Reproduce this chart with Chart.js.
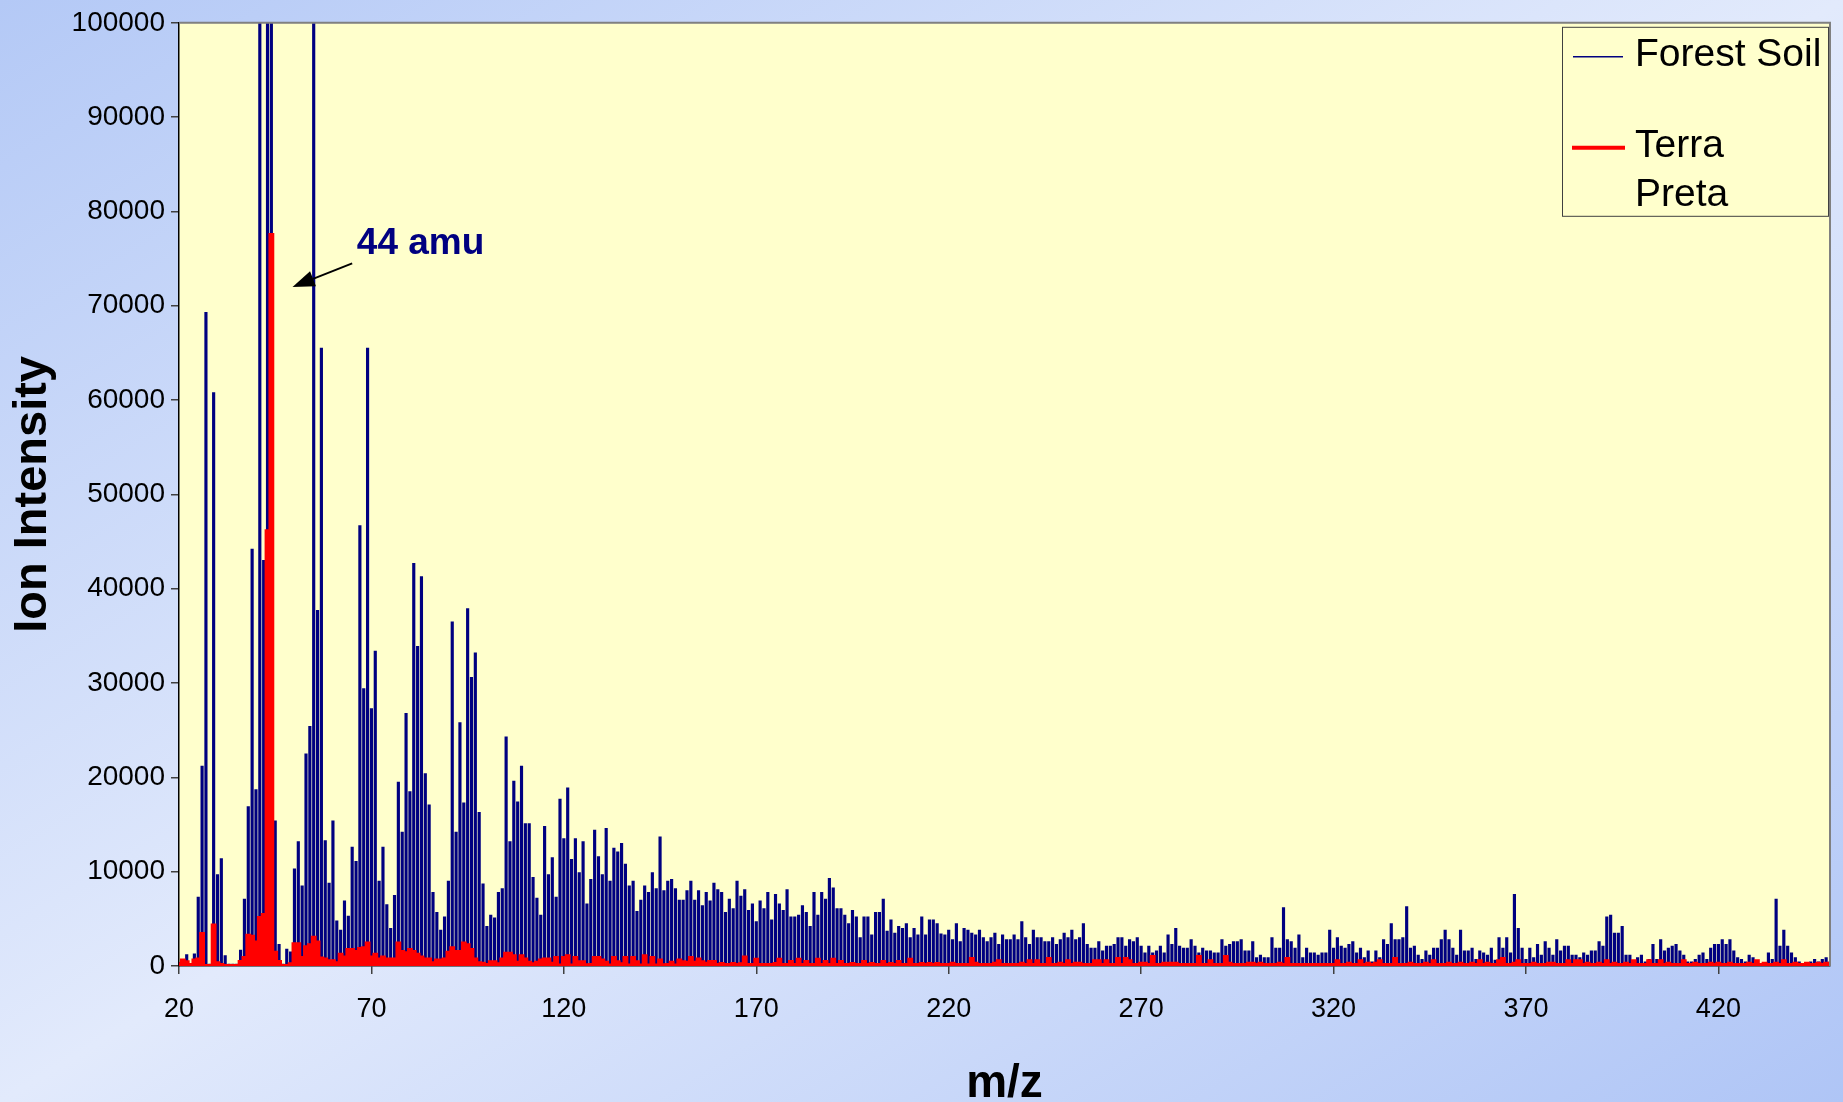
<!DOCTYPE html>
<html>
<head>
<meta charset="utf-8">
<title>Ion Intensity vs m/z</title>
<script src="https://cdn.jsdelivr.net/npm/chart.js@4.4.1/dist/chart.umd.min.js"></script>
<style>
  html, body { margin: 0; padding: 0; }
  body {
    width: 1843px; height: 1102px; overflow: hidden;
    background: linear-gradient(to bottom right, #b4c9f6 0%, #e2eafc 50%, #afc5f6 100%);
  }
  canvas { display: block; }
</style>
</head>
<body>
<canvas id="spectrum" width="1843" height="1102"></canvas>
<script>
// m/z runs from MZ_FIRST, one value per unit
const MZ_FIRST = 20;
const X_TICKS = [20, 70, 120, 170, 220, 270, 320, 370, 420];
const Y_TICKS = [0, 10000, 20000, 30000, 40000, 50000, 60000, 70000, 80000, 90000, 100000];

const FOREST_SOIL = [
  400, 300, 1200, 200, 1300, 7300, 21200, 69300, 200, 60800,          // 20
  9700, 11400, 1100, 200, 200, 200, 1700, 7100, 16900, 44200,         // 30
  18700, 100000, 43000, 100000, 100000, 15400, 2300, 200, 1800, 1500, // 40
  10300, 13200, 8500, 22500, 25400, 100000, 37700, 65500, 13300, 8800, // 50
  15400, 4800, 3800, 6900, 5300, 12600, 11100, 46700, 29400, 65500,   // 60
  27300, 33400, 9000, 12600, 6500, 4000, 7500, 19500, 14200, 26800,   // 70
  18500, 42700, 33900, 41300, 20400, 17100, 7800, 5700, 3800, 5200,   // 80
  9000, 36500, 14200, 25800, 17300, 37900, 30600, 33200, 16300, 8700, // 90
  4200, 5400, 5100, 7800, 8200, 24300, 13200, 19600, 17400, 21200,    // 100
  15100, 15100, 9400, 7200, 5400, 14800, 9700, 11500, 7300, 17700,    // 110
  13500, 18900, 11300, 13500, 9900, 13200, 6600, 9200, 14400, 11600,  // 120
  9700, 14600, 9000, 12500, 12100, 13000, 10800, 8500, 9000, 5800,    // 130
  7000, 8500, 7800, 9900, 8200, 13700, 8000, 9000, 9200, 8200,        // 140
  7000, 7000, 8000, 9000, 7000, 8000, 6400, 7800, 6900, 8800,         // 150
  8100, 7800, 5700, 7100, 6100, 9000, 7400, 8100, 5900, 6600,         // 160
  4700, 6900, 6100, 7800, 4900, 7600, 6600, 5900, 8100, 5200,         // 170
  5200, 5400, 6400, 5700, 4200, 7800, 5400, 7800, 7100, 9300,         // 180
  8300, 6100, 6100, 5400, 4500, 5900, 5200, 3000, 5200, 5200,         // 190
  3300, 5700, 5700, 7100, 3700, 4900, 3500, 4200, 4000, 4500,         // 200
  3000, 4000, 3300, 5200, 3300, 4900, 4900, 4500, 3400, 3300,         // 210
  3800, 2800, 4500, 2600, 4000, 3800, 3500, 3300, 3800, 3000,         // 220
  2600, 3000, 3500, 2300, 3300, 2800, 2800, 3300, 2800, 4700,         // 230
  3000, 2300, 3800, 3000, 3000, 2600, 2600, 3000, 2300, 2800,         // 240
  3500, 3000, 3800, 2800, 3000, 4500, 2300, 1900, 1900, 2600,         // 250
  1600, 2100, 2100, 2300, 3000, 3000, 2100, 2800, 2600, 3000,         // 260
  2100, 1400, 2100, 1400, 1600, 2100, 1400, 3300, 2300, 4000,         // 270
  2100, 1900, 1900, 2800, 2100, 1400, 1900, 1600, 1600, 1400,         // 280
  1400, 2800, 2100, 2300, 2600, 2600, 2800, 1600, 1600, 2600,         // 290
  900, 1150, 900, 900, 3000, 1900, 1900, 6200, 2800, 2600,            // 300
  1900, 3300, 900, 1900, 1400, 1400, 1150, 1400, 1400, 3800,          // 310
  1900, 3000, 2100, 1900, 2300, 2600, 1400, 1900, 900, 1600,          // 320
  450, 1600, 900, 2800, 2300, 4500, 2800, 2800, 3000, 6300,           // 330
  1900, 2100, 1150, 700, 1600, 1150, 1900, 1900, 2800, 3800,          // 340
  2800, 1900, 1150, 3800, 1600, 1600, 1900, 700, 1600, 1400,          // 350
  1150, 1900, 630, 3000, 1900, 3000, 1400, 7600, 4000, 1900,          // 360
  700, 1900, 900, 2300, 1150, 2600, 1900, 1150, 2800, 1600,           // 370
  2100, 2100, 1150, 1150, 900, 1400, 1150, 1600, 1600, 2600,          // 380
  2100, 5200, 5400, 3500, 3500, 4200, 1150, 1150, 450, 900,           // 390
  1150, 450, 700, 2300, 700, 2800, 1600, 1900, 2100, 2300,            // 400
  1600, 1150, 450, 450, 700, 1150, 1400, 700, 1900, 2300,             // 410
  2300, 2800, 2300, 2800, 1600, 900, 700, 450, 1150, 900,             // 420
  250, 100, 250, 1400, 700, 7100, 2100, 3800, 2100, 1400,             // 430
  900, 450, 250, 300, 450, 700, 450, 700, 900, 450                    // 440
];

const TERRA_PRETA = [
  300, 700, 500, 200, 700, 800, 3500, 100, 100, 4400,                 // 20
  400, 200, 100, 100, 100, 100, 530, 950, 3300, 3200,                 // 30
  2600, 5200, 5500, 46200, 77600, 1500, 530, 100, 100, 300,           // 40
  2400, 2400, 950, 2100, 2300, 3100, 2600, 900, 800, 600,             // 50
  600, 400, 1300, 1000, 1800, 1800, 1600, 1900, 2000, 2500,           // 60
  1000, 1300, 800, 1000, 800, 800, 800, 2500, 1600, 1450,             // 70
  1800, 1600, 1300, 1000, 800, 800, 400, 700, 700, 800,               // 80
  1500, 2000, 1600, 1600, 2500, 2300, 1800, 800, 400, 350,            // 90
  200, 500, 500, 300, 800, 1400, 1400, 1150, 450, 1150,               // 100
  800, 450, 280, 450, 700, 800, 800, 350, 950, 150,                   // 110
  950, 1150, 150, 950, 500, 500, 180, 200, 950, 950,                  // 120
  700, 450, 150, 950, 500, 300, 950, 150, 950, 500,                   // 130
  150, 1150, 150, 950, 150, 700, 180, 200, 450, 150,                  // 140
  700, 500, 450, 950, 450, 800, 500, 350, 530, 530,                   // 150
  200, 320, 200, 200, 320, 200, 300, 1000, 200, 200,                  // 160
  780, 200, 200, 200, 200, 320, 780, 200, 200, 530,                   // 170
  200, 780, 200, 530, 200, 200, 780, 200, 530, 200,                   // 180
  780, 200, 530, 200, 200, 320, 200, 200, 530, 200,                   // 190
  320, 200, 200, 530, 200, 320, 200, 530, 200, 200,                   // 200
  780, 200, 200, 320, 200, 320, 200, 320, 200, 200,                   // 210
  200, 350, 200, 200, 200, 200, 850, 350, 200, 200,                   // 220
  200, 200, 350, 600, 200, 200, 200, 200, 200, 350,                   // 230
  200, 600, 200, 600, 200, 200, 850, 200, 200, 350,                   // 240
  200, 600, 200, 350, 350, 200, 200, 200, 600, 600,                   // 250
  200, 600, 200, 200, 850, 200, 850, 600, 200, 200,                   // 260
  350, 350, 200, 1050, 200, 200, 350, 350, 350, 350,                  // 270
  200, 200, 200, 200, 200, 1050, 200, 200, 600, 200,                  // 280
  200, 200, 1050, 350, 200, 200, 200, 200, 350, 350,                  // 290
  200, 350, 200, 200, 200, 200, 350, 200, 850, 200,                   // 300
  200, 200, 200, 200, 200, 200, 200, 200, 200, 200,                   // 310
  200, 600, 200, 200, 350, 200, 200, 600, 200, 350,                   // 320
  200, 350, 600, 200, 200, 200, 850, 200, 200, 200,                   // 330
  350, 200, 200, 200, 350, 200, 600, 200, 200, 200,                   // 340
  350, 200, 200, 350, 200, 200, 350, 200, 600, 200,                   // 350
  350, 200, 200, 600, 850, 200, 200, 350, 600, 200,                   // 360
  200, 200, 350, 200, 200, 200, 350, 350, 200, 200,                   // 370
  200, 600, 200, 600, 600, 200, 350, 200, 200, 350,                   // 380
  200, 600, 200, 350, 200, 200, 350, 200, 600, 200,                   // 390
  200, 200, 600, 200, 200, 600, 200, 350, 200, 200,                   // 400
  200, 600, 200, 200, 350, 200, 200, 200, 350, 200,                   // 410
  350, 200, 200, 350, 200, 200, 200, 200, 350, 200,                   // 420
  600, 200, 350, 200, 200, 350, 200, 600, 200, 200,                   // 430
  350, 200, 200, 350, 200, 200, 350, 200, 350, 200                    // 440
];

// where the "44 amu" note sits, in data units
const NOTE_TEXT = "44 amu";
const NOTE_AT = { mz: 66.2, y: 75500 };
const ARROW_FROM = { mz: 65.0, y: 74500 };
const ARROW_TO = { mz: 49.5, y: 72000 };

const FONT = "'Liberation Sans', Arial, sans-serif";
const NAVY = "#000080";
const RED = "#ff0000";

const toPoints = (arr) => arr.map((v, i) => ({ x: MZ_FIRST + i, y: v }));
const mzLast = MZ_FIRST + FOREST_SOIL.length - 1;

const plotBg = {
  id: "plotBg",
  beforeDraw(chart) {
    const { ctx, chartArea: a } = chart;
    ctx.save();
    ctx.fillStyle = "#ffffcc";
    ctx.fillRect(a.left, a.top, a.right - a.left, a.bottom - a.top);
    ctx.restore();
  }
};

const extras = {
  id: "extras",
  afterDraw(chart) {
    const { ctx, chartArea: a, scales } = chart;
    const x = scales.x, y = scales.y;
    ctx.save();

    // plot frame
    ctx.strokeStyle = "#808080";
    ctx.lineWidth = 2;
    ctx.beginPath();
    ctx.moveTo(a.left, a.top); ctx.lineTo(a.right, a.top); ctx.lineTo(a.right, a.bottom);
    ctx.stroke();

    // axis titles
    ctx.fillStyle = "#000";
    ctx.font = "bold 46px " + FONT;
    ctx.textAlign = "center";
    ctx.textBaseline = "alphabetic";
    ctx.fillText("m/z", (a.left + a.right) / 2, 1097);
    ctx.save();
    ctx.translate(33, (a.top + a.bottom) / 2);
    ctx.rotate(-Math.PI / 2);
    ctx.textBaseline = "middle";
    ctx.font = "bold 47px " + FONT;
    ctx.fillText("Ion Intensity", 0, 0);
    ctx.restore();

    // 44 amu note
    const fx = x.getPixelForValue(ARROW_FROM.mz), fy = y.getPixelForValue(ARROW_FROM.y);
    const tx = x.getPixelForValue(ARROW_TO.mz), ty = y.getPixelForValue(ARROW_TO.y);
    const ang = Math.atan2(ty - fy, tx - fx);
    const head = 22, half = 8;
    ctx.strokeStyle = "#000";
    ctx.lineWidth = 2;
    ctx.beginPath();
    ctx.moveTo(fx, fy);
    ctx.lineTo(tx - Math.cos(ang) * head, ty - Math.sin(ang) * head);
    ctx.stroke();
    ctx.fillStyle = "#000";
    ctx.beginPath();
    ctx.moveTo(tx, ty);
    ctx.lineTo(tx - Math.cos(ang) * head - Math.sin(ang) * half, ty - Math.sin(ang) * head + Math.cos(ang) * half);
    ctx.lineTo(tx - Math.cos(ang) * head + Math.sin(ang) * half, ty - Math.sin(ang) * head - Math.cos(ang) * half);
    ctx.closePath();
    ctx.fill();
    ctx.fillStyle = NAVY;
    ctx.font = "bold 37px " + FONT;
    ctx.textAlign = "left";
    ctx.textBaseline = "alphabetic";
    ctx.fillText(NOTE_TEXT, x.getPixelForValue(NOTE_AT.mz), y.getPixelForValue(NOTE_AT.y));

    // legend box
    const bw = 266, bh = 189;
    const bx = a.right - bw - 2, by = a.top + 4;
    ctx.fillStyle = "#ffffcc";
    ctx.fillRect(bx, by, bw, bh);
    ctx.strokeStyle = "#404040";
    ctx.lineWidth = 1;
    ctx.strokeRect(bx + 0.5, by + 0.5, bw, bh);
    ctx.font = "39px " + FONT;
    ctx.textBaseline = "middle";
    ctx.fillStyle = "#000";
    const ds = chart.data.datasets;
    const blue = ds.find(d => d.label === "Forest Soil");
    const red = ds.find(d => d.label === "Terra Preta");
    ctx.strokeStyle = blue.backgroundColor; ctx.lineWidth = 1.5;
    ctx.beginPath(); ctx.moveTo(bx + 11, by + 30); ctx.lineTo(bx + 61, by + 30); ctx.stroke();
    ctx.fillText(blue.label, bx + 73, by + 28);
    ctx.strokeStyle = red.borderColor; ctx.lineWidth = 4;
    ctx.beginPath(); ctx.moveTo(bx + 10, by + 121); ctx.lineTo(bx + 63, by + 121); ctx.stroke();
    const words = red.label.split(" ");
    ctx.fillText(words[0], bx + 73, by + 119);
    ctx.fillText(words[1], bx + 73, by + 168);

    ctx.restore();
  }
};

new Chart(document.getElementById("spectrum"), {
  type: "bar",
  data: {
    datasets: [
      {
        type: "line",
        label: "Terra Preta",
        data: toPoints(TERRA_PRETA),
        borderColor: RED,
        backgroundColor: RED,
        borderWidth: 2,
        stepped: "middle",
        fill: "origin",
        pointRadius: 0,
        order: 1
      },
      {
        label: "Forest Soil",
        data: toPoints(FOREST_SOIL),
        backgroundColor: NAVY,
        barThickness: 2.5,
        order: 2
      }
    ]
  },
  options: {
    responsive: false,
    devicePixelRatio: 1,
    animation: false,
    layout: { padding: { top: 20, right: 13, left: 0, bottom: 0 } },
    plugins: { legend: { display: false }, tooltip: { enabled: false } },
    scales: {
      x: {
        type: "linear",
        min: MZ_FIRST,
        max: mzLast,
        offset: false,
        afterBuildTicks: (s) => { s.ticks = X_TICKS.map(v => ({ value: v })); },
        afterFit: (s) => { s.height = 136; },
        ticks: { color: "#000", font: { family: FONT, size: 27 }, padding: 19, maxRotation: 0,
                 callback: (v) => String(v) },
        grid: { offset: false, drawOnChartArea: false, drawTicks: true, tickLength: 8, color: "#404040", lineWidth: 1.5 },
        border: { color: "#000", width: 1.5 }
      },
      y: {
        min: 0,
        max: 100000,
        afterBuildTicks: (s) => { s.ticks = Y_TICKS.map(v => ({ value: v })); },
        afterFit: (s) => { s.width = 179; },
        ticks: { color: "#000", font: { family: FONT, size: 28 }, padding: 6,
                 callback: (v) => String(v) },
        grid: { drawOnChartArea: false, drawTicks: true, tickLength: 8, color: "#404040", lineWidth: 1.5 },
        border: { color: "#000", width: 1.5 }
      }
    }
  },
  plugins: [plotBg, extras]
});
</script>
</body>
</html>
